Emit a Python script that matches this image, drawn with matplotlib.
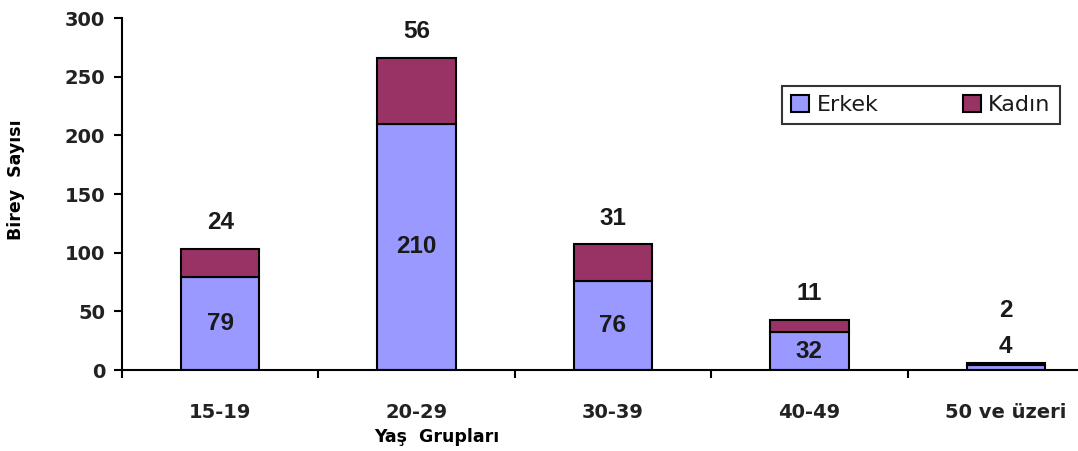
import matplotlib.pyplot as plt
import numpy as np

groups = ['15-19', '20-29', '30-39', '40-49', '50 ve üzeri']
erkek = [79, 210, 76, 32, 4]
kadin = [24, 56, 31, 11, 2]

fig = plt.figure(figsize=(10.78, 4.51), dpi=100)
ax = fig.add_axes([122 / 1078, 81 / 451, 982 / 1078, 352 / 451])

x = np.arange(len(groups))
w = 0.4
ax.bar(x, erkek, w, color='#9999ff', edgecolor='black', linewidth=1.5, label='Erkek')
ax.bar(x, kadin, w, bottom=erkek, color='#993366', edgecolor='black', linewidth=1.5, label='Kadın')

lab = dict(ha='center', va='center', fontsize=17.5, family='Liberation Sans',
           fontweight='bold', color='#1a1a1a')

# labels: erkek in the middle, kadin above the stack
for i in range(len(groups)):
    top = erkek[i] + kadin[i]
    if erkek[i] < 15:
        ax.annotate(str(erkek[i]), (x[i], top), xytext=(0, 12), textcoords='offset points', **lab)
        ax.annotate(str(kadin[i]), (x[i], top), xytext=(0, 38), textcoords='offset points', **lab)
    else:
        ax.text(x[i], erkek[i] / 2, str(erkek[i]), **lab)
        ax.annotate(str(kadin[i]), (x[i], top), xytext=(0, 19), textcoords='offset points', **lab)

ax.set_xlim(-0.5, 4.5)
ax.set_ylim(0, 300)
ax.set_yticks(np.arange(0, 301, 50))
ax.set_xticks(x)
ax.set_xticklabels(groups, fontsize=14, fontweight='bold', color='#222222')
ax.set_xticks(np.arange(-0.5, 4.6, 1), minor=True)
ax.tick_params(axis='x', which='major', length=0, pad=24)
ax.tick_params(axis='x', which='minor', length=6, width=1.5, direction='out')
ax.tick_params(axis='y', length=6, width=1.5, labelsize=14, direction='out', pad=6)
for t in ax.get_yticklabels():
    t.set_fontweight('bold')
    t.set_color('#222222')

ax.spines['top'].set_visible(False)
ax.spines['right'].set_visible(False)
ax.spines['left'].set_linewidth(1.5)
ax.spines['bottom'].set_linewidth(1.5)

ax.set_ylabel('Birey  Sayısı', fontsize=12.5, fontweight='bold')
ax.yaxis.set_label_coords((25 - 122) / 982, (370 - 180) / 352)
ax.set_xlabel('Yaş  Grupları', fontsize=12.5, fontweight='bold')
ax.xaxis.set_label_coords((437 - 122) / 982, -0.165)

leg = ax.legend(loc='upper left', bbox_to_anchor=((782 - 122) / 982, (370 - 86) / 352),
                borderaxespad=0, ncol=2, fontsize=16, frameon=True, fancybox=False,
                edgecolor='black', handlelength=0.8, handleheight=0.8, columnspacing=3.8,
                borderpad=0.4, handletextpad=0.35)
leg.get_frame().set_linewidth(1.5)
for t in leg.get_texts():
    t.set_color('#1a1a1a')

fig.savefig('out.png', dpi=100)
